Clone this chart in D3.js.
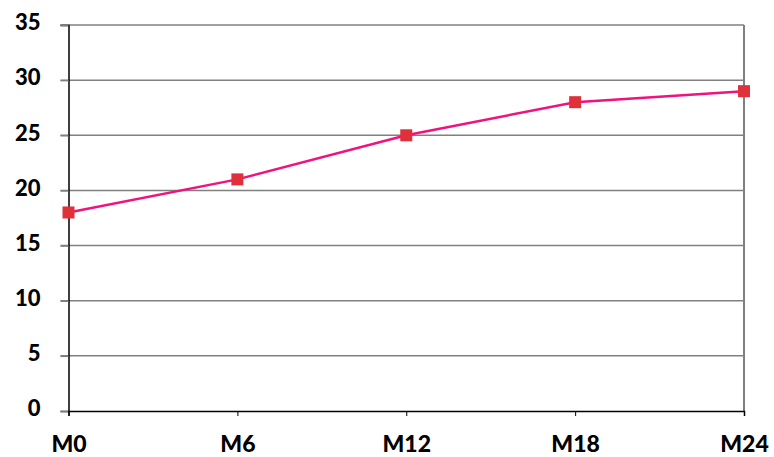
<!DOCTYPE html>
<html>
<head>
<meta charset="utf-8">
<script src="https://cdn.jsdelivr.net/npm/d3@7"></script>
<style>
  body { margin: 0; background: #fff; }
  svg text { font-family: Lato, "Open Sans", sans-serif; font-weight: 900; fill: #000; }
</style>
</head>
<body>
<svg id="chart" width="774" height="457"></svg>
<script>
// Series data
const categories = ["M0", "M6", "M12", "M18", "M24"];
const values = [18, 21, 25, 28, 29];
const yTicks = [0, 5, 10, 15, 20, 25, 30, 35];

const svg = d3.select("#chart");
const plotLeft = 68.5, plotRight = 744, plotTop = 25, plotBottom = 411;

const x = d3.scalePoint().domain(categories).range([plotLeft, plotRight]).padding(0);
const y = d3.scaleLinear().domain([0, 35]).range([plotBottom, plotTop]);

// Horizontal gridlines
svg.append("g")
  .selectAll("line")
  .data(yTicks.filter(d => d > 0))
  .join("line")
  .attr("x1", plotLeft - 8).attr("x2", plotRight)
  .attr("y1", d => y(d)).attr("y2", d => y(d))
  .attr("stroke", "#808080").attr("stroke-width", 1.5);

// Right border of plot area
svg.append("line")
  .attr("x1", plotRight).attr("x2", plotRight)
  .attr("y1", plotTop).attr("y2", plotBottom)
  .attr("stroke", "#808080").attr("stroke-width", 2);

// Y axis
const yAxis = svg.append("g")
  .attr("transform", `translate(${plotLeft},0)`)
  .call(d3.axisLeft(y).tickValues(yTicks).tickSize(8).tickPadding(20));
yAxis.select(".domain").attr("stroke", "#000").attr("stroke-width", 1.5);
yAxis.selectAll(".tick line").attr("stroke", "#808080").attr("stroke-width", 1.5);
yAxis.selectAll("text").style("font-size", "22px").attr("fill", "#000").attr("dy", "0.22em");

// X axis
const xAxis = svg.append("g")
  .attr("transform", `translate(0,${plotBottom})`)
  .call(d3.axisBottom(x).tickSize(5));
xAxis.select(".domain").attr("stroke", "#000").attr("stroke-width", 1.5);
xAxis.selectAll(".tick line").attr("stroke", "#000").attr("stroke-width", 1);
xAxis.selectAll("text").style("font-size", "23px").attr("fill", "#000")
  .attr("y", 40.5).attr("dy", 0);

// Line
const pts = categories.map((c, i) => [x(c), y(values[i])]);
svg.append("path")
  .attr("d", d3.line()(pts))
  .attr("fill", "none")
  .attr("stroke", "#f0127e")
  .attr("stroke-width", 2.5);

// Square markers
const m = 12;
svg.append("g")
  .selectAll("rect")
  .data(pts)
  .join("rect")
  .attr("x", d => d[0] - m / 2).attr("y", d => d[1] - m / 2)
  .attr("width", m).attr("height", m)
  .attr("fill", "#e0303a");
</script>
</body>
</html>
